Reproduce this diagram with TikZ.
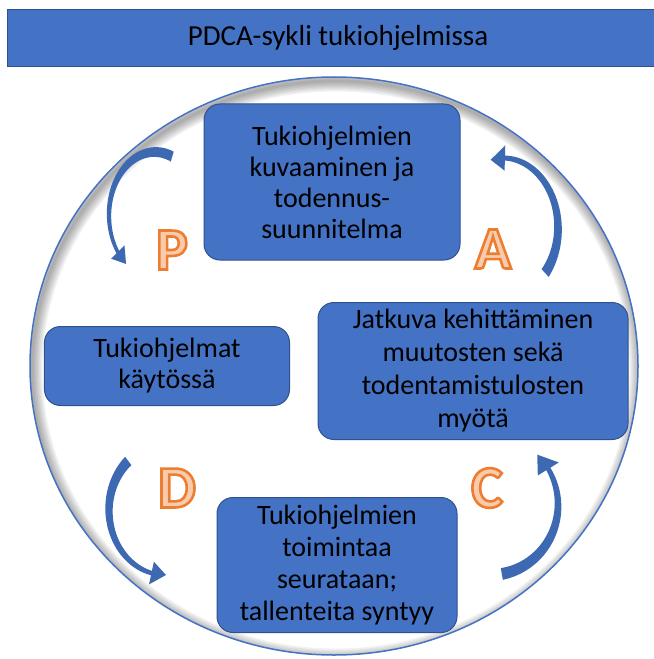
\documentclass[tikz,border=0pt]{standalone}
\usepackage{fontspec}
\setmainfont{Carlito}
\definecolor{boxblue}{RGB}{68,114,196}
\definecolor{boxedge}{RGB}{47,82,143}
\definecolor{arrowblue}{RGB}{61,105,178}
\definecolor{letterline}{RGB}{237,125,49}
\definecolor{letterfill}{RGB}{248,203,173}
\tikzset{
  titlebar/.style={rectangle,fill=boxblue,draw=boxedge,line width=1bp,minimum width=646bp,minimum height=57bp,inner sep=0pt,font=\fontsize{29bp}{33bp}\selectfont},
  stage/.style={rectangle,rounded corners=16bp,fill=boxblue,draw=boxedge,line width=1bp,align=center,inner sep=0pt,font=\fontsize{28bp}{31bp}\selectfont},
  letter/.style={text=letterfill,font=\bfseries\fontsize{60bp}{60bp}\selectfont,inner sep=0pt},
  rim/.style={draw=boxblue,line width=1.5bp}
}
% tapered curved arrow along an ellipse: cx, cy, rx, ry, tail angle, head angle
\newcommand{\cyclearrow}[6]{%
  \fill[arrowblue] plot[domain=#5:#6,samples=40,variable=\t]
      ({#1+(1.085-0.05*(\t-(#5))/((#6)-(#5)))*#3*cos(\t)},{#2+(1.085-0.05*(\t-(#5))/((#6)-(#5)))*#4*sin(\t)})
    -- ({#1+1.18*#3*cos(#6)},{#2+1.18*#4*sin(#6)})
    -- ({#1+#3*cos((#6)+15*sign((#6)-(#5)))},{#2+#4*sin((#6)+15*sign((#6)-(#5)))})
    -- ({#1+0.82*#3*cos(#6)},{#2+0.82*#4*sin(#6)})
    -- plot[domain=#6:#5,samples=40,variable=\t]
      ({#1+(0.915+0.05*(\t-(#5))/((#6)-(#5)))*#3*cos(\t)},{#2+(0.915+0.05*(\t-(#5))/((#6)-(#5)))*#4*sin(\t)})
    -- cycle;}
% outlined letter (fill and stroke the glyph)
\newcommand{\outlined}[1]{%
  \special{pdf:literal direct 2 Tr 2.6 w 0.929 0.490 0.192 RG}#1\special{pdf:literal direct 0 Tr}}

\begin{document}
\begin{tikzpicture}[x=1bp,y=-1bp]
  \useasboundingbox (0,0) rectangle (654,659);
  \node[titlebar] (title) at (331,38) {\hspace{14bp}PDCA-sykli tukiohjelmissa};
  % the circle with its soft inner shadow
  \fill[white] (334,366) ellipse [x radius=304,y radius=289];
  \begin{scope}
    \clip (334,366) ellipse [x radius=304,y radius=289];
    \foreach \w in {3,6,...,21}
      \draw[black,opacity=0.05,line width=\w bp] (336,370) ellipse [x radius=304,y radius=289];
  \end{scope}
  \draw[rim] (334,366) ellipse [x radius=304,y radius=289];
  % the four stages
  \node[stage,minimum width=256bp,minimum height=156bp] (kuvaus) at (332,182) {Tukiohjelmien\\kuvaaminen ja\\todennus-\\suunnitelma};
  \node[stage,minimum width=245bp,minimum height=79bp] (kaytto) at (167,366) {Tukiohjelmat\\käytössä};
  \node[stage,minimum width=310bp,minimum height=137bp,font=\fontsize{28bp}{33bp}\selectfont] (kehitys) at (473,371) {Jatkuva kehittäminen\\muutosten sekä\\todentamistulosten\\myötä};
  \node[stage,minimum width=240bp,minimum height=135bp,font=\fontsize{28bp}{32bp}\selectfont] (seuranta) at (337,565) {Tukiohjelmien\\toimintaa\\seurataan;\\tallenteita syntyy};
  % curved arrows
  \cyclearrow{155}{215}{46}{63}{-68}{-216}
  \cyclearrow{165}{510}{56}{65}{229}{104}
  \cyclearrow{490}{505}{68}{70}{80}{-31}
  \cyclearrow{503}{228}{55}{70}{40}{-88}
  % letters
  \node[letter] (P) at (172,250) {\outlined{P}};
  \node[letter] (D) at (177,488) {\outlined{D}};
  \node[letter] (C) at (487,488) {\outlined{C}};
  \node[letter] (A) at (493,249) {\outlined{A}};
\end{tikzpicture}
\end{document}
